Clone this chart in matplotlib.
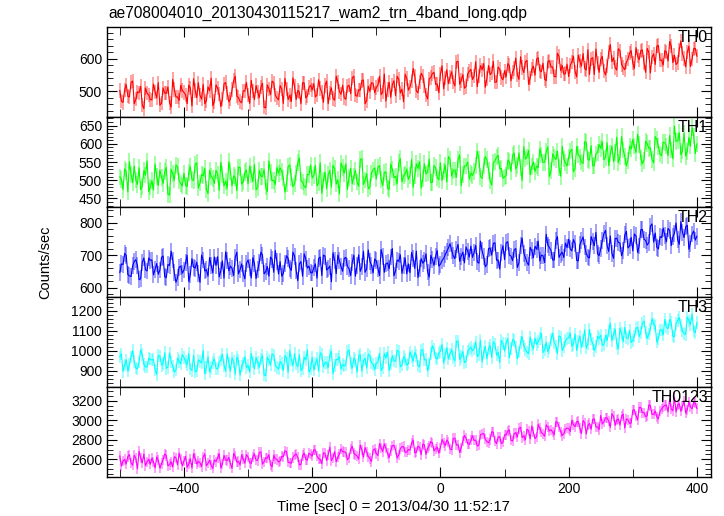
import numpy as np
import matplotlib
matplotlib.use("Agg")
import matplotlib.pyplot as plt
from matplotlib.ticker import MultipleLocator

plt.rcParams['font.family'] = ['Liberation Sans', 'DejaVu Sans']

title = "ae708004010_20130430115217_wam2_trn_4band_long.qdp"
xlabel = "Time [sec] 0 = 2013/04/30 11:52:17"
ylabel = "Counts/sec"
t_start = -500
t_step = 2.5

bands = ["TH0", "TH1", "TH2", "TH3", "TH0123"]
colors = ["#ff0000", "#00ff00", "#0000ff", "#00ffff", "#ff00ff"]
errors = [22, 23, 26, 31, 52]
ylims = [(420, 698), (426, 674), (571, 848), (820, 1268), (2420, 3340)]
ymajor = [100, 50, 100, 100, 200]
yminor = [20, 10, 20, 20, 50]

th0 = [502,469, 465,504, 520,484, 482,527, 531,461, 475,498, 495,515, 457,446, 510,493, 488,474,
       473,522, 498,479, 526,456, 463,510, 494,493, 513,464, 451,536, 505,482, 482,471, 518,502,
       496,489, 461,518, 510,454, 538,502, 480,526, 487,475, 521,461, 470,513, 501,540, 455,468,
       519,509, 491,452, 475,522, 527,493, 467,475, 505,533, 546,484, 480,468, 464,501, 500,527,
       488,462, 533,500, 474,517, 497,480, 512,524, 450,448, 519,507, 489,531, 526,487, 479,473,
       517,507, 462,539, 506,474, 487,468, 541,514, 474,502, 497,461, 526,525, 479,485, 511,518,
       504,523, 482,488, 535,508, 497,465, 517,531, 461,494, 510,477, 472,546, 527,499, 490,518,
       479,475, 515,518, 492,541, 546,487, 484,504, 503,533, 534,461, 471,515, 499,526, 524,495,
       511,518, 546,489, 497,553, 469,505, 527,481, 520,532, 486,546, 537,494, 506,467, 552,539,
       503,513, 531,570, 547,500, 495,529, 555,547, 517,489, 476,538, 542,554, 558,521, 522,495,
       552,578, 507,540, 566,523, 543,560, 528,516, 590,592, 521,533, 551,509, 514,553, 561,567,
       536,546, 591,514, 547,579, 566,585, 512,539, 579,551, 556,592, 527,528, 574,568, 542,535,
       563,544, 585,579, 532,559, 570,602, 550,536, 606,573, 557,590, 595,521, 540,568, 577,549,
       599,603, 563,560, 586,537, 532,591, 594,574, 575,545, 544,617, 607,563, 579,552, 554,583,
       545,579, 591,608, 560,544, 611,592, 577,616, 570,565, 628,551, 600,603, 551,630, 586,558,
       598,607, 562,550, 578,620, 644,591, 603,573, 565,631, 625,582, 573,566, 589,599, 617,625,
       587,570, 634,608, 597,625, 627,588, 558,632, 620,556, 605,615, 582,639, 641,595, 596,581,
       625,621, 593,653, 640,588, 611,582, 588,628, 655,616, 601,575, 620,639, 576,599, 631,632,
       608]

th1 = [509,502, 474,531, 523,467, 551,515, 493,539, 500,488, 534,474, 483,526, 514,553, 468,481,
       499,473, 544,511, 485,528, 508,491, 523,535, 461,459, 530,518, 500,542, 537,498, 490,484,
       519,486, 482,521, 537,501, 499,544, 548,478, 492,515, 512,532, 474,463, 527,510, 505,491,
       527,517, 472,549, 516,484, 497,478, 551,524, 484,512, 507,471, 536,535, 489,495, 521,528,
       490,539, 515,496, 543,473, 480,527, 511,510, 530,481, 468,553, 522,499, 499,488, 535,519,
       534,524, 506,467, 490,537, 542,508, 482,490, 520,548, 561,499, 495,483, 479,516, 515,542,
       506,513, 541,484, 492,548, 464,500, 522,476, 515,527, 481,541, 532,489, 501,462, 547,534,
       519,545, 474,507, 533,490, 510,527, 495,483, 557,559, 488,500, 518,476, 481,520, 528,534,
       503,536, 540,501, 485,521, 523,478, 474,544, 530,507, 510,490, 548,559, 495,512, 517,531,
       502,512, 557,480, 513,545, 532,551, 478,505, 545,517, 522,558, 493,494, 540,534, 508,501,
       548,499, 523,542, 495,565, 558,511, 527,528, 508,557, 570,485, 516,539, 539,550, 503,519,
       513,523, 541,580, 557,510, 505,539, 565,557, 527,499, 486,548, 552,564, 568,531, 532,505,
       509,513, 555,551, 524,568, 575,531, 541,575, 534,499, 592,558, 564,582, 515,538, 550,524,
       539,534, 586,569, 549,549, 579,592, 510,526, 572,563, 557,580, 534,511, 593,558, 548,539,
       563,580, 585,523, 532,593, 570,564, 550,546, 606,604, 557,555, 595,539, 540,572, 577,598,
       588,606, 556,563, 603,540, 574,594, 551,577, 618,548, 564,620, 583,566, 539,555, 594,586,
       612,594, 576,626, 599,561, 545,555, 607,601, 588,589, 557,548, 620,612, 592,572, 567,605,
       603,594, 567,623, 583,559, 649,607, 608,631, 570,580, 630,566, 578,618, 594,645, 622,573,
       600]

th2 = [646,673, 671,705, 699,640, 636,634, 667,680, 686,668, 624,627, 678,691, 655,651, 691,684,
       685,639, 657,674, 641,654, 693,697, 633,631, 671,668, 712,685, 646,616, 630,663, 666,644,
       654,676, 699,619, 640,689, 663,660, 678,642, 616,700, 685,651, 655,635, 692,668, 645,694,
       668,695, 633,652, 682,629, 710,683, 652,666, 659,637, 693,709, 642,655, 673,644, 627,675,
       685,663, 630,692, 674,628, 655,676, 709,700, 642,649, 665,635, 694,687, 647,714, 679,642,
       680,635, 643,673, 698,690, 660,653, 709,697, 653,621, 673,680, 635,704, 688,660, 666,646,
       645,661, 673,629, 689,694, 637,700, 697,654, 659,666, 618,707, 684,643, 700,683, 664,650,
       690,693, 665,658, 637,678, 700,635, 669,701, 650,664, 712,647, 658,716, 681,669, 645,688,
       682,660, 637,717, 696,647, 673,676, 658,694, 720,636, 651,685, 681,701, 644,668, 691,642,
       673,646, 708,689, 659,712, 631,658, 689,675, 682,704, 648,632, 699,686, 668,697, 714,666,
       672,683, 690,701, 712,722, 735,714, 698,689, 716,733, 681,697, 709,676, 725,712, 694,728,
       693,708, 730,679, 675,743, 713,695, 664,671, 720,722, 700,736, 738,684, 685,657, 707,729,
       686,738, 741,700, 697,683, 716,720, 662,676, 729,752, 706,693, 677,669, 724,713, 692,727,
       718,743, 682,700, 698,677, 764,731, 723,714, 685,685, 745,757, 693,703, 709,692, 737,723,
       749,719, 713,748, 736,684, 682,732, 744,756, 725,705, 694,691, 757,743, 729,770, 704,698,
       719,744, 766,776, 729,711, 759,705, 690,751, 752,739, 737,698, 714,762, 773,722, 728,755,
       713,765, 759,708, 728,778, 779,749, 745,731, 738,789, 796,740, 768,724, 719,757, 754,783,
       760,741, 782,776, 729,756, 767,799, 747,733, 803,770, 754,787, 792,718, 737,765, 774,746,
       758]

th3 = [970,985, 898,929, 955,899, 931,970, 1001,948, 914,910, 944,1004, 981,933, 920,919, 962,959,
       954,958, 905,883, 977,974, 928,937, 991,913, 918,989, 945,925, 895,904, 964,947, 935,981,
       967,946, 930,987, 909,903, 977,895, 899,955, 948,939, 1002,886, 916,969, 895,917, 942,960,
       913,909, 945,954, 982,928, 900,984, 940,898, 965,946, 884,969, 954,879, 924,940, 971,915,
       929,895, 987,945, 911,967, 941,918, 960,976, 879,877, 969,954, 930,985, 978,928, 917,909,
       947,938, 902,976, 965,893, 1002,955, 926,986, 935,920, 980,902, 913,969, 954,1004, 894,911,
       968,905, 936,961, 899,991, 981,920, 941,942, 916,980, 997,886, 927,957, 957,971, 910,931,
       925,930, 997,1005, 940,914, 964,951, 894,975, 981,899, 951,963, 914,984, 975,941, 933,907,
       939,943, 988,902, 916,986, 965,994, 902,934, 975,950, 948,1003, 998,920, 929,972, 958,929,
       935,995, 972,950, 993,976, 925,920, 1003,1006, 954,958, 900,935, 986,1025, 1007,964, 960,989,
       997,1031, 939,981, 1015,959, 985,1008, 966,950, 1047,1049, 957,972, 996,941, 948,998, 1009,1017,
       1000,1009, 1045,971, 982,1054, 945,992, 1021,961, 1012,1027, 967,1045, 1034,978, 993,943, 1053,1036,
       999,1040, 1060,965, 1012,1056, 1051,1019, 961,995, 1042,1071, 1023,1007, 993,986, 1069,1029, 1011,1063,
       1032,1047, 1061,1088, 992,1004, 1042,996, 1015,1056, 1088,1040, 1025,987, 1074,1070, 1002,1018, 1051,1061,
       1065,1088, 1023,1032, 1084,1002, 1047,1073, 1017,1051, 1104,1013, 1034,1107, 1058,1036, 1001,1022, 1073,1062,
       1078,1027, 1031,1077, 1052,1099, 1138,1050, 1084,1108, 1035,1009, 1113,1086, 1045,1117, 1066,1060, 1103,1041,
       1052,1073, 1112,1118, 1071,1092, 1138,1148, 1093,1062, 1084,1110, 1160,1133, 1123,1043, 1060,1104, 1105,1079,
       1157,1118, 1110,1156, 1140,1073, 1070,1135, 1151,1166, 1126,1100, 1086,1082, 1168,1149, 1131,1184, 1099,1091,
       1140]

th0123 = [2635,2531, 2585,2599, 2556,2630, 2649,2563, 2541,2642, 2610,2505, 2684,2612, 2565,2655, 2536,2576, 2601,2550,
          2612,2573, 2513,2625, 2592,2510, 2558,2596, 2655,2639, 2535,2547, 2576,2522, 2628,2616, 2544,2664, 2601,2535,
          2582,2631, 2519,2553, 2607,2512, 2658,2609, 2553,2579, 2566,2526, 2627,2656, 2535,2559, 2591,2539, 2508,2595,
          2577,2617, 2658,2514, 2552,2640, 2594,2588, 2621,2556, 2509,2660, 2633,2572, 2579,2543, 2646,2603, 2561,2649,
          2625,2565, 2558,2628, 2657,2592, 2589,2670, 2677,2551, 2576,2617, 2612,2648, 2544,2524, 2639,2608, 2599,2574,
          2583,2631, 2628,2689, 2678,2572, 2565,2561, 2620,2644, 2655,2622, 2543,2548, 2640,2664, 2599,2592, 2664,2651,
          2633,2699, 2696,2631, 2608,2600, 2557,2667, 2662,2588, 2649,2725, 2588,2618, 2680,2575, 2624,2654, 2707,2680,
          2678,2670, 2597,2618, 2703,2733, 2661,2647, 2634,2604, 2746,2696, 2622,2721, 2676,2627, 2609,2579, 2694,2708,
          2661,2639, 2760,2717, 2681,2758, 2715,2661, 2618,2691, 2738,2744, 2697,2614, 2645,2711, 2729,2731, 2672,2675,
          2700,2695, 2767,2798, 2668,2672, 2736,2724, 2648,2756, 2749,2652, 2713,2740, 2781,2769, 2686,2709, 2726,2663,
          2720,2803, 2770,2740, 2799,2776, 2706,2698, 2814,2817, 2745,2751, 2671,2720, 2790,2844, 2819,2760, 2754,2794,
          2842,2794, 2797,2736, 2747,2853, 2860,2864, 2805,2781, 2770,2803, 2882,2877, 2785,2761, 2826,2833, 2761,2774,
          2851,2850, 2891,2902, 2796,2787, 2864,2873, 2828,2916, 2929,2824, 2841,2799, 2909,2893, 2810,2941, 2877,2812,
          2833,2956, 2916,2878, 2860,2837, 2952,2934, 2891,2904, 2878,2851, 2983,2981, 2932,2884, 2844,2864, 2907,2920,
          2916,2886, 3001,2954, 2934,2985, 2988,2918, 2864,2997, 2976,2860, 2949,2967, 2907,3010, 3013,2931, 2932,2905,
          3049,2962, 2984,3025, 3025,2989, 2928,3067, 3040,2948, 3005,3014, 2950,3045, 3063,2921, 3013,3005, 2968,2971,
          3103,3107, 3046,3004, 3130,3130, 3078,3078, 3037,3046, 3157,3150, 3060,3062, 3094,3033, 3015,3093, 3114,3139,
          3151,3156, 3086,3214, 3115,3097, 3234,3086, 3160,3169, 3091,3147, 3199,3073, 3106,3189, 3135,3117, 3185,3176,
          3120]

series = [th0, th1, th2, th3, th0123]

W, H = 724, 516
fig = plt.figure(figsize=(W / 100, H / 100), dpi=100)

left = 107 / W
width = (711 - 107) / W
top_px = 27
ph = 90
fs = 10

axes = []
for i, (name, vals, col, err) in enumerate(zip(bands, series, colors, errors)):
    bottom = 1 - (top_px + ph * (i + 1)) / H
    ax = fig.add_axes([left, bottom, width, ph / H])
    axes.append(ax)
    v = np.array(vals, dtype=float)
    t = t_start + t_step * np.arange(len(v))
    ax.errorbar(t, v, yerr=err, fmt='none', ecolor=col, alpha=0.4, elinewidth=1.3)
    ax.plot(t, v, color=col, lw=0.8)
    ax.set_xlim(-520, 422)
    ax.set_ylim(*ylims[i])
    ax.yaxis.set_major_locator(MultipleLocator(ymajor[i]))
    ax.yaxis.set_minor_locator(MultipleLocator(yminor[i]))
    ax.xaxis.set_major_locator(MultipleLocator(200))
    ax.xaxis.set_minor_locator(MultipleLocator(100))
    ax.tick_params(which='both', direction='in', top=True, right=True,
                   labelsize=fs, color='black')
    ax.tick_params(which='major', length=7, width=0.8)
    ax.tick_params(which='minor', length=4, width=0.6)
    ax.tick_params(axis='x', which='minor', length=6)
    for s in ax.spines.values():
        s.set_linewidth(1.0)
    ax.text(0.995, 0.97, name, transform=ax.transAxes, ha='right', va='top',
            fontsize=11.5, color='black')
    if i < len(bands) - 1:
        ax.tick_params(labelbottom=False)

axes[-1].set_xlabel(xlabel, fontsize=10.7, labelpad=2)
axes[-1].xaxis.set_label_coords(0.475, -0.26)
fig.text(108 / W, 1 - 13 / H, title, ha='left', va='center', fontsize=11.2)
fig.text(45 / W, 1 - 262 / H, ylabel, rotation=90, ha='center', va='center', fontsize=10.5)

fig.savefig("out.png", dpi=100)
